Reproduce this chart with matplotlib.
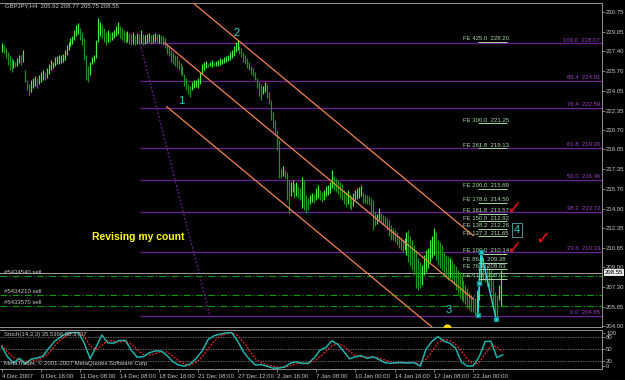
import numpy as np
import matplotlib
matplotlib.use('Agg')
import matplotlib.pyplot as plt
from matplotlib import rcParams

rcParams['font.family'] = ['Liberation Sans', 'DejaVu Sans']

# GBPJPY H4 bars, oldest first (4 Dec 2007 -> 22 Jan 2008)
bar_high = [228.11, 227.94, 227.68, 227.34, 227.08, 226.83, 226.66, 226.49, 226.83, 227.08,
            227.08, 227.51, 225.81, 224.96, 224.62, 224.96, 225.13, 225.30, 225.13, 225.38,
            225.64, 225.81, 225.64, 225.98, 226.32, 226.66, 226.49, 226.91, 227.00, 227.08,
            227.08, 227.17, 227.51, 227.94, 228.19, 228.53, 228.70, 229.21, 229.64, 229.81,
            229.38, 229.04, 228.53, 227.08, 226.15, 226.49, 226.91, 227.08, 228.36, 230.24,
            229.90, 229.64, 229.38, 229.04, 229.21, 228.96, 229.04, 229.21, 229.55, 229.90,
            229.55, 229.38, 229.21, 229.04, 229.13, 228.96, 228.87, 229.04, 228.79, 228.96,
            228.87, 229.21, 228.87, 228.79, 228.87, 228.96, 228.79, 228.87, 228.96, 228.87,
            228.87, 228.79, 228.70, 228.53, 228.02, 227.85, 227.51, 227.34, 227.08, 227.00,
            226.66, 226.40, 226.15, 225.47, 225.13, 224.62, 224.44, 224.79, 224.96, 224.96,
            225.13, 225.64, 226.32, 226.49, 226.57, 226.40, 226.49, 226.66, 226.49, 226.57,
            226.66, 226.83, 226.74, 226.91, 227.00, 227.08, 227.34, 227.51, 227.85, 228.19,
            228.36, 227.85, 227.68, 227.34, 227.08, 226.83, 226.49, 226.15, 225.98, 225.64,
            225.13, 224.79, 224.62, 224.44, 224.79, 224.62, 223.93, 223.25, 222.23, 221.55,
            220.70, 219.85, 217.46, 217.63, 217.29, 217.12, 216.44, 216.27, 216.44, 216.10,
            216.27, 215.93, 215.76, 216.69, 216.44, 215.16, 214.90, 215.16, 215.33, 215.25,
            215.76, 216.01, 215.59, 215.42, 215.59, 215.93, 216.01, 216.27, 217.29, 216.78,
            216.61, 216.44, 216.27, 216.10, 215.59, 215.42, 215.59, 215.25, 215.08, 215.33,
            215.59, 215.76, 215.84, 216.01, 215.42, 215.25, 215.16, 215.08, 214.90, 214.73,
            213.71, 213.54, 214.05, 213.63, 213.46, 213.37, 213.20, 213.03, 212.61, 212.35,
            212.18, 212.01, 211.67, 211.50, 211.33, 211.50, 212.01, 212.18, 211.67, 211.33,
            210.90, 210.47, 209.79, 209.45, 209.20, 210.05, 210.47, 210.65, 211.33, 211.67,
            212.35, 212.01, 211.33, 211.16, 210.90, 210.30, 210.05, 209.96, 209.79, 209.62,
            209.28, 209.11, 208.77, 208.60, 208.35, 207.92, 207.49, 207.24, 206.90, 206.64,
            206.56, 206.39, 207.07, 208.77, 210.30, 209.79, 209.45, 209.20, 208.94, 208.77,
            207.92, 206.90, 206.64, 207.49, 208.77]
bar_low = [227.34, 227.26, 226.83, 226.23, 225.81, 225.64, 225.98, 226.06, 226.15, 226.40,
           226.23, 226.49, 224.79, 224.10, 223.68, 223.93, 224.27, 224.44, 224.27, 224.62,
           224.79, 224.96, 224.96, 225.13, 225.47, 225.81, 225.98, 226.15, 226.32, 226.32,
           226.40, 226.49, 226.66, 227.08, 227.51, 227.85, 228.02, 228.36, 228.70, 228.87,
           228.36, 227.94, 226.66, 224.96, 224.79, 225.38, 226.32, 226.49, 226.83, 228.19,
           228.70, 228.53, 228.19, 227.94, 228.19, 228.19, 228.36, 228.53, 228.70, 228.87,
           228.53, 228.36, 228.19, 228.11, 228.19, 228.02, 227.94, 228.02, 227.94, 228.02,
           228.02, 228.11, 227.94, 228.02, 228.11, 228.19, 228.02, 228.11, 228.19, 228.11,
           228.11, 228.02, 227.94, 227.68, 227.17, 227.00, 226.49, 226.32, 226.15, 225.98,
           225.81, 225.47, 225.30, 224.44, 224.10, 223.76, 223.51, 224.10, 224.27, 224.36,
           224.27, 224.62, 225.47, 225.81, 225.98, 226.06, 226.15, 226.06, 226.15, 226.15,
           226.15, 226.23, 226.32, 226.40, 226.49, 226.57, 226.66, 226.83, 227.00, 227.34,
           227.51, 227.17, 226.91, 226.49, 226.32, 225.98, 225.81, 225.47, 225.30, 224.96,
           224.27, 223.59, 223.25, 223.76, 223.93, 223.42, 222.91, 221.55, 220.87, 220.27,
           218.99, 216.61, 216.61, 216.78, 216.61, 214.73, 213.63, 215.08, 215.42, 214.90,
           215.08, 214.90, 214.73, 214.05, 213.88, 213.63, 213.88, 214.39, 214.56, 214.48,
           214.73, 214.90, 214.73, 214.56, 214.73, 215.08, 215.16, 215.33, 215.76, 215.59,
           215.42, 215.25, 214.90, 214.73, 214.39, 214.14, 214.39, 214.05, 213.88, 214.22,
           214.73, 214.82, 214.90, 215.08, 214.48, 214.48, 214.39, 214.31, 213.63, 212.18,
           212.52, 212.69, 213.03, 212.86, 212.69, 212.61, 212.18, 211.67, 211.33, 211.33,
           211.16, 210.90, 210.65, 210.47, 210.30, 210.47, 210.05, 209.45, 209.11, 208.77,
           208.35, 207.24, 207.07, 207.24, 207.49, 208.35, 208.60, 208.94, 209.45, 209.79,
           210.05, 209.62, 209.20, 208.94, 208.77, 208.35, 208.09, 207.92, 208.09, 207.75,
           207.49, 207.07, 206.73, 206.39, 206.21, 206.05, 205.88, 205.54, 205.36, 205.19,
           205.19, 204.94, 205.02, 206.21, 207.49, 207.92, 207.75, 207.41, 207.07, 206.90,
           205.79, 204.77, 204.68, 206.21, 205.75]

# Stochastic(14,3,3), one value every 3 bars
stoch_main = [56, 30, 14, 26, 12, 24, 27, 32, 52, 70,
              81, 90, 92, 92, 65, 25, 55, 86, 66, 65,
              72, 72, 46, 29, 30, 40, 45, 45, 34, 18,
              9, 6, 12, 26, 45, 74, 84, 88, 91, 92,
              71, 43, 24, 9, 10, 6, 1, 1, 4, 14,
              17, 13, 13, 27, 47, 54, 71, 62, 44, 25,
              30, 33, 26, 30, 23, 15, 13, 15, 15, 14,
              15, 6, 50, 70, 82, 70, 65, 52, 16, 6,
              7, 30, 69, 70, 28, 35]
stoch_signal = [60, 42, 28, 22, 18, 20, 22, 28, 40, 58,
                74, 85, 91, 92, 82, 58, 48, 60, 72, 70,
                68, 70, 62, 48, 36, 34, 38, 43, 42, 32,
                20, 11, 9, 16, 30, 50, 70, 83, 88, 91,
                85, 68, 46, 25, 15, 9, 6, 3, 3, 7,
                12, 14, 14, 18, 30, 44, 58, 63, 58, 44,
                33, 30, 30, 29, 27, 22, 17, 14, 14, 15,
                15, 12, 24, 44, 66, 74, 72, 62, 44, 24,
                10, 15, 38, 58, 56, 42]

date_labels = ['4 Dec 2007', '6 Dec 16:00', '11 Dec 08:00', '14 Dec 08:00', '18 Dec 16:00',
               '21 Dec 08:00', '27 Dec 12:00', '2 Jan 16:00', '7 Jan 08:00', '10 Jan 00:00',
               '14 Jan 16:00', '17 Jan 08:00', '22 Jan 00:00']
price_ticks = [230.75, 229.05, 227.40, 225.70, 224.05, 222.35, 220.70, 219.05, 217.35,
               215.70, 214.00, 212.35, 210.65, 209.00, 207.30, 205.65, 204.00]

# fibonacci retracement and expansion levels
fib_levels = [100.0, 86.4, 76.4, 61.8, 50.0, 38.2, 23.6, 0.0]
fib_prices = [228.07, 224.91, 222.59, 219.20, 216.46, 213.72, 210.33, 204.85]
fe_levels = ['425.0', '300.0', '261.8', '200.0', '178.6', '161.8', '150.0', '138.2',
             '127.2', '100.0', '86.4', '76.4', '61.8']
fe_prices = [228.20, 221.25, 219.13, 215.69, 214.50, 213.57, 212.92, 212.26,
             211.65, 210.14, 209.38, 208.83, 208.01]

orders = ['#5434540 sell', '#5434210 sell', '#5433570 sell']
order_prices = [208.28, 206.65, 205.72]
last_price = 208.55

# channel / trendline anchors (bar index, price)
chan_upper = ([95, 240], [231.85, 211.70])
chan_mid = ([83, 240], [228.11, 206.29])
chan_low = ([84, 226], [222.68, 202.94])
fib_trend = ([70.4, 106.0], [228.07, 204.85])
wave_zigzag = ([242.4, 243.0, 243.9, 251.6], [204.94, 207.66, 210.30, 204.60])

FS = 4.3
TXT = '#C8C8C8'
AXC = '#909090'
PURPLE = '#6E1E96'

fig = plt.figure(figsize=(6.25, 3.8), dpi=100, facecolor='black')
ax = fig.add_axes([0, 1 - 327 / 380, 602 / 625, 324 / 380])
ax2 = fig.add_axes([0, 1 - 368.5 / 380, 602 / 625, 39 / 380])

xmin, xmax = -0.87, 305.5

# ---- price panel ----
ax.set_facecolor('black')
idx = np.arange(len(bar_high))
hi = np.array(bar_high)
lo = np.array(bar_low)
mid = (hi + lo) / 2
up = np.r_[True, np.diff(mid) >= 0]
cols = np.where(up, '#3CF03C', '#1E961E')
ax.vlines(idx, lo, hi, colors=cols, lw=0.85, zorder=3)

ax.hlines(fib_prices, fib_trend[0][0], xmax, colors=PURPLE, lw=0.9, zorder=2)
for lvl, p in zip(fib_levels, fib_prices):
    ax.text(0.997, p + 0.05, '%.1f  %.2f' % (lvl, p), transform=ax.get_yaxis_transform(),
            ha='right', va='bottom', color='#9A40C8', fontsize=FS)
ax.plot(fib_trend[0], fib_trend[1], color=PURPLE, lw=0.9, ls=(0, (1.5, 1.5)), zorder=2)

for r, p in zip(fe_levels, fe_prices):
    ax.text(234.6, p + 0.05, 'FE %s  %.2f' % (r, p), color='#A8D8A8', fontsize=FS,
            ha='left', va='bottom', zorder=5)
    ax.hlines(p, 242.4, 257.1, colors='#A8D8A8', lw=0.7, zorder=5)

for xs, ys in (chan_upper, chan_mid, chan_low):
    ax.plot(xs, ys, color='#F5844C', lw=0.9, zorder=4)

for name, p in zip(orders, order_prices):
    ax.axhline(p, color='#00A000', lw=0.8, ls=(0, (6, 2, 1, 2)), zorder=2)
    ax.text(0.007, p + 0.05, name, transform=ax.get_yaxis_transform(), color=TXT,
            fontsize=FS, ha='left', va='bottom')
ax.axhline(last_price, color='#A0A0A0', lw=0.7, zorder=2)
ax.text(1.004, last_price, '%.2f' % last_price, transform=ax.get_yaxis_transform(),
        ha='left', va='center', fontsize=FS, color='black', clip_on=False,
        bbox=dict(boxstyle='square,pad=0.15', fc='#E8E8E8', ec='none'))

ax.plot(wave_zigzag[0], wave_zigzag[1], color='#30D8D8', lw=1.0, marker='s', ms=2.5,
        mfc='#30D8D8', mec='#108888', zorder=6)
ax.plot([226.7], [203.80], marker='o', ms=5, color='#FFD700', zorder=6)

wave_kw = dict(color='#30D0D0', fontsize=8, ha='center', va='center', zorder=7)
ax.text(91.2, 223.17, '1', **wave_kw)
ax.text(119.7, 228.96, '2', **wave_kw)
ax.text(227.6, 205.36, '3', **wave_kw)
ax.text(262.2, 212.18, '4', bbox=dict(boxstyle='square,pad=0.15', fc='none',
                                      ec='#60A8A8', lw=0.6), **wave_kw)
for bx, by in [(260.5, 214.0), (275.3, 211.45), (260.5, 210.6)]:
    ax.text(bx, by, '\u2713', color='#FF1010', fontsize=13, family=['DejaVu Sans'],
            fontweight='bold', ha='center', va='center', zorder=7)

ax.text(46, 211.58, 'Revising my count', color='#FFFF00', fontsize=7.5,
        fontweight='bold', va='center', ha='left', zorder=7)

ax.set_xlim(xmin, xmax)
ax.set_ylim(203.92, 231.51)
ax.set_xticks([])
ax.yaxis.tick_right()
ax.set_yticks(price_ticks)
ax.set_yticklabels(['%.2f' % p for p in price_ticks])
ax.tick_params(axis='y', colors=AXC, labelcolor=TXT, labelsize=FS, length=2,
               width=0.6, pad=1)
ax.spines['left'].set_visible(False)
for s in ['top', 'right', 'bottom']:
    ax.spines[s].set_color(AXC)
    ax.spines[s].set_linewidth(0.7)
ax.spines['top'].set_linestyle((0, (1, 1)))

fig.text(5 / 625, 1 - 6 / 380, 'GBPJPY,H4  205.92 208.77 205.75 208.55', color=TXT,
         fontsize=FS, va='center', ha='left')

# ---- stochastic panel ----
ax2.set_facecolor('black')
sx = np.arange(len(stoch_main)) * 3
for lv in [80, 50, 20]:
    ax2.axhline(lv, color='#808080', lw=0.6, ls=(0, (1.5, 1.5)))
ax2.plot(sx, stoch_signal, color='#FF2020', lw=0.9, ls=(0, (1.5, 1.2)))
ax2.plot(sx, stoch_main, color='#20B2AA', lw=1.1)
ax2.text(0.006, 0.86, 'Stoch(14,3,3) 35.5366 38.3737', transform=ax2.transAxes,
         color=TXT, fontsize=FS, va='center', ha='left')
ax2.text(0.006, 0.14, 'MetaTrader, \u00a9 2001-2007 MetaQuotes Software Corp.',
         transform=ax2.transAxes, color=TXT, fontsize=FS, va='center', ha='left')

ax2.set_xlim(xmin, xmax)
ax2.set_ylim(0, 100)
ax2.yaxis.tick_right()
ax2.set_yticks([91.8, 80, 50, 20, 7.2])
ax2.set_yticklabels(['100', '80', '50', '20', '0'])
ax2.tick_params(axis='y', colors=AXC, labelcolor=TXT, labelsize=FS, length=2,
                width=0.6, pad=1)
ax2.set_xticks(np.arange(0, 20 * len(date_labels), 20))
ax2.set_xticklabels(date_labels)
for lbl in ax2.get_xticklabels():
    lbl.set_horizontalalignment('left')
ax2.tick_params(axis='x', colors=AXC, labelcolor=TXT, labelsize=FS, length=2.5,
                width=0.6, pad=1.5)
ax2.spines['left'].set_visible(False)
for s in ['top', 'right', 'bottom']:
    ax2.spines[s].set_color(AXC)
    ax2.spines[s].set_linewidth(0.7)

fig.savefig('out.png', dpi=100, facecolor='black')
